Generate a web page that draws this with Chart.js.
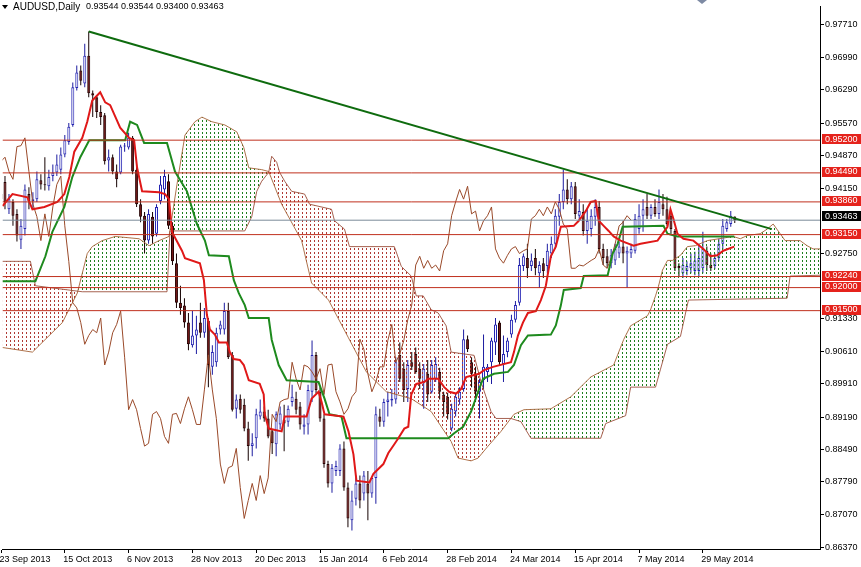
<!DOCTYPE html>
<html lang="en">
<head>
<meta charset="UTF-8">
<title>AUDUSD Daily</title>
<script src="https://cdn.jsdelivr.net/npm/chart.js"></script>
<style>
  html, body { margin: 0; padding: 0; background: #fff; }
  #wrap { width: 861px; height: 567px; }
</style>
</head>
<body>
<div id="wrap"><canvas id="c"></canvas></div>
<script>
// header
const symbol = 'AUDUSD,Daily';

// daily candles, bar 0 = 23 Sep 2013
const opens = [
  .9403,.9429,.9370,.9386,.9360,.9304,.9327,.9403,.9388,.9392,
  .9433,.9424,.9420,.9442,.9450,.9456,.9489,.9516,.9553,.9633,
  .9671,.9643,.9703,.9622,.9613,.9581,.9574,.9476,.9483,.9452,
  .9450,.9506,.9504,.9525,.9456,.9381,.9356,.9302,.9354,.9317,
  .9388,.9413,.9431,.9334,.9253,.9167,.9161,.9124,.9075,.9096,
  .9124,.9102,.9128,.9028,.9038,.9109,.9109,.9149,.9054,.8937,
  .8959,.8946,.8894,.8856,.8873,.8920,.8931,.8916,.8888,.8860,
  .8903,.8914,.8909,.8952,.8959,.8942,.8898,.8903,.8974,.9054,
  .8974,.8916,.8817,.8775,.8802,.8802,.8851,.8766,.8695,.8742,
  .8775,.8753,.8775,.8753,.8787,.8920,.8909,.8952,.8955,.8957,
  .9054,.9024,.8980,.9038,.9056,.9024,.8995,.9013,.8974,.9002,
  .9017,.8968,.8963,.8894,.8931,.8957,.8980,.9088,.9038,.9013,
  .8974,.8999,.9017,.9038,.9081,.9124,.9034,.9060,.9098,.9130,
  .9167,.9247,.9264,.9247,.9264,.9231,.9253,.9247,.9274,.9295,
  .9354,.9386,.9413,.9392,.9420,.9356,.9364,.9323,.9327,.9354,
  .9375,.9284,.9268,.9253,.9259,.9274,.9289,.9274,.9274,.9280,
  .9327,.9356,.9375,.9356,.9375,.9360,.9381,.9370,.9356,.9323,
  .9247,.9231,.9236,.9242,.9236,.9236,.9242,.9280,.9249,.9247,
  .9264,.9295,.9327,.9338,.93544
];
const highs = [
  .9420,.9442,.9403,.9392,.9370,.9349,.9424,.9418,.9407,.9452,
  .9446,.9483,.9456,.9467,.9489,.9504,.9531,.9557,.9645,.9682,
  .9682,.9729,.9756,.9628,.9617,.9596,.9579,.9500,.9489,.9467,
  .9510,.9514,.9536,.9529,.9467,.9392,.9364,.9370,.9364,.9381,
  .9442,.9456,.9446,.9342,.9274,.9204,.9177,.9145,.9149,.9139,
  .9167,.9156,.9134,.9075,.9113,.9128,.9167,.9167,.9060,.8968,
  .8968,.8959,.8909,.8884,.8937,.8957,.8942,.8935,.8892,.8931,
  .8942,.8946,.8944,.8989,.8974,.8952,.8925,.8989,.9085,.9060,
  .8984,.8925,.8824,.8817,.8824,.8860,.8866,.8777,.8759,.8792,
  .8792,.8802,.8802,.8787,.8942,.8937,.8959,.8974,.8980,.9049,
  .9081,.9038,.9043,.9060,.9070,.9038,.9034,.9043,.9043,.9049,
  .9026,.8974,.8972,.8948,.8970,.8984,.9109,.9096,.9049,.9028,
  .9002,.9098,.9034,.9091,.9134,.9128,.9096,.9091,.9141,.9171,
  .9264,.9274,.9295,.9274,.9284,.9257,.9264,.9295,.9311,.9370,
  .9403,.9456,.9435,.9429,.9429,.9392,.9381,.9370,.9370,.9392,
  .9388,.9295,.9284,.9284,.9295,.9300,.9345,.9289,.9295,.9360,
  .9381,.9392,.9403,.9381,.9392,.9413,.9403,.9397,.9364,.9327,
  .9253,.9264,.9257,.9274,.9278,.9295,.9321,.9289,.9274,.9274,
  .9306,.9349,.9349,.9366,.93544
];
const lows = [
  .9381,.9370,.9360,.9334,.9300,.9284,.9313,.9370,.9370,.9386,
  .9413,.9411,.9411,.9431,.9442,.9446,.9483,.9510,.9549,.9628,
  .9639,.9635,.9613,.9570,.9568,.9553,.9467,.9452,.9446,.9418,
  .9446,.9495,.9500,.9446,.9375,.9342,.9274,.9295,.9295,.9311,
  .9381,.9392,.9327,.9249,.9156,.9141,.9113,.9064,.9070,.9056,
  .9091,.9091,.8984,.9011,.9028,.9098,.9098,.9045,.8931,.8916,
  .8927,.8888,.8824,.8834,.8851,.8914,.8909,.8873,.8839,.8834,
  .8892,.8845,.8898,.8942,.8925,.8892,.8881,.8881,.8952,.8970,
  .8909,.8809,.8766,.8755,.8791,.8791,.8759,.8680,.8673,.8727,
  .8721,.8738,.8695,.8744,.8731,.8898,.8898,.8920,.8942,.8948,
  .8995,.8952,.8952,.9021,.9013,.8980,.8937,.8952,.8970,.8995,
  .8957,.8920,.8914,.8888,.8920,.8946,.8974,.9060,.8984,.8952,
  .8916,.8980,.8995,.8991,.9054,.9032,.8995,.9049,.9091,.9124,
  .9161,.9236,.9221,.9236,.9227,.9199,.9221,.9231,.9264,.9284,
  .9334,.9370,.9381,.9381,.9349,.9345,.9313,.9295,.9311,.9334,
  .9274,.9249,.9242,.9242,.9249,.9264,.9253,.9199,.9264,.9274,
  .9317,.9321,.9349,.9349,.9354,.9349,.9356,.9334,.9317,.9236,
  .9225,.9221,.9227,.9231,.9227,.9225,.9231,.9236,.9236,.9240,
  .9257,.9284,.9321,.9332,.93400
];
const closes = [
  .9392,.9386,.9392,.9356,.9313,.9334,.9413,.9388,.9392,.9435,
  .9424,.9422,.9440,.9450,.9467,.9489,.9520,.9549,.9635,.9667,
  .9649,.9703,.9622,.9617,.9581,.9570,.9474,.9483,.9452,.9435,
  .9506,.9508,.9525,.9452,.9381,.9354,.9302,.9360,.9311,.9375,
  .9424,.9442,.9334,.9257,.9167,.9156,.9124,.9077,.9096,.9109,
  .9102,.9134,.9032,.9060,.9102,.9120,.9149,.9049,.8935,.8957,
  .8935,.8894,.8856,.8862,.8925,.8931,.8916,.8877,.8862,.8925,
  .8927,.8905,.8937,.8963,.8935,.8903,.8903,.8978,.9054,.8978,
  .8916,.8817,.8775,.8809,.8813,.8851,.8766,.8699,.8738,.8775,
  .8738,.8792,.8753,.8787,.8925,.8909,.8952,.8957,.8959,.9038,
  .9002,.8978,.9032,.9028,.9017,.9002,.9024,.8968,.9032,.9034,
  .8974,.8952,.8925,.8937,.8963,.8974,.9088,.9066,.9013,.8974,
  .8995,.9028,.9028,.9085,.9120,.9038,.9056,.9085,.9130,.9162,
  .9249,.9268,.9242,.9259,.9242,.9249,.9236,.9280,.9295,.9356,
  .9386,.9413,.9392,.9420,.9360,.9366,.9323,.9345,.9356,.9375,
  .9284,.9264,.9253,.9270,.9284,.9289,.9274,.9280,.9284,.9349,
  .9356,.9370,.9356,.9375,.9360,.9386,.9370,.9338,.9327,.9242,
  .9242,.9249,.9247,.9253,.9259,.9264,.9284,.9249,.9242,.9264,
  .9295,.9334,.9342,.9356,.93463
];

// time axis: a label every 16 bars
const dateTicks = [0, 16, 32, 48, 64, 80, 96, 112, 128, 144, 160, 176];
const dateLabels = ['23 Sep 2013', '15 Oct 2013', '6 Nov 2013', '28 Nov 2013', '20 Dec 2013',
  '15 Jan 2014', '6 Feb 2014', '28 Feb 2014', '24 Mar 2014', '15 Apr 2014', '7 May 2014', '29 May 2014'];

// price axis labels
const priceTicks = [0.97710, 0.96990, 0.96290, 0.95570, 0.94870, 0.94150, 0.92750,
  0.91330, 0.90610, 0.89910, 0.89190, 0.88490, 0.87790, 0.87070, 0.86370];

// ichimoku lines as [bar, price] vertices
const tenkan = [
  [0.38,.9377],[2.88,.9403],[6.63,.9396],[7.88,.9370],[10.88,.9375],[14.13,.9386],[15.88,.9403],
  [17.13,.9440],[18.38,.9495],[20.38,.9525],[21.63,.9560],[22.88,.9606],[24.88,.9624],[26.13,.9602],
  [27.38,.9596],[29.88,.9547],[32.13,.9525],[33.38,.9520],[34.13,.9460],[35.38,.9409],[39.63,.9407],
  [41.13,.9403],[42.13,.9392],[42.88,.9321],[45.38,.9280],[46.13,.9264],[49.88,.9253],[50.88,.9216],
  [51.63,.9141],[52.38,.9109],[53.63,.9098],[54.63,.9081],[56.63,.9081],[57.38,.9060],[58.38,.9045],
  [59.88,.9043],[60.88,.9032],[62.13,.8999],[64.88,.8991],[65.88,.8968],[66.13,.8925],[67.13,.8894],
  [70.38,.8888],[71.13,.8920],[76.63,.8920],[77.88,.8959],[79.63,.8974],[80.38,.8952],[81.13,.8925],
  [85.88,.8920],[87.13,.8888],[88.38,.8838],[89.13,.8781],[92.38,.8777],[93.38,.8796],[95.88,.8817],
  [97.13,.8841],[98.63,.8860],[99.63,.8873],[101.13,.8894],[102.13,.8898],[102.88,.8968],[104.13,.8991],
  [106.13,.8995],[107.13,.9002],[109.63,.9002],[111.13,.8984],[112.38,.8974],[114.13,.8970],[115.38,.8980],
  [116.63,.9006],[119.88,.9013],[121.13,.9021],[123.38,.9028],[127.88,.9038],[128.63,.9060],[129.63,.9096],
  [130.88,.9124],[132.13,.9145],[134.13,.9149],[135.38,.9173],[136.63,.9204],[137.88,.9268],[139.13,.9289],
  [140.38,.9332],[143.63,.9334],[144.88,.9345],[146.63,.9366],[147.88,.9386],[149.13,.9388],[149.88,.9345],
  [151.13,.9334],[152.38,.9323],[153.63,.9311],[155.38,.9302],[158.63,.9291],[160.38,.9295],[164.63,.9302],
  [165.88,.9317],[167.13,.9332],[167.88,.9370],[168.63,.9349],[169.63,.9317],[171.13,.9306],[173.63,.9302],
  [176.13,.9284],[177.88,.9268],[179.63,.9270],[181.13,.9280],[183.88,.9289]
];
const kijun = [
  [0.38,.9214],[8.63,.9214],[11.13,.9268],[12.88,.9321],[15.88,.9375],[17.88,.9440],[19.88,.9483],
  [22.13,.9520],[31.13,.9520],[32.38,.9560],[34.13,.9553],[35.88,.9514],[41.63,.9514],[43.63,.9452],
  [46.63,.9409],[49.13,.9338],[51.13,.9302],[52.13,.9270],[57.13,.9268],[58.38,.9216],[59.63,.9188],
  [61.13,.9162],[62.13,.9134],[67.13,.9134],[67.88,.9087],[69.63,.9032],[71.63,.8999],[79.63,.8995],
  [81.13,.8959],[82.38,.8925],[85.38,.8920],[86.63,.8873],[112.13,.8873],[113.63,.8884],[115.88,.8898],
  [117.88,.8931],[119.63,.8974],[120.88,.9002],[123.63,.9013],[127.13,.9017],[128.63,.9032],[130.38,.9075],
  [132.13,.9096],[137.88,.9098],[139.13,.9118],[140.38,.9161],[141.13,.9195],[145.38,.9199],[146.13,.9225],
  [152.13,.9227],[153.38,.9274],[154.63,.9295],[155.88,.9332],[166.13,.9334],[167.13,.9317],[169.63,.9311],
  [183.88,.9311]
];
const spanA = [
  [0.38,.9070],[7.88,.9060],[15.38,.9124],[19.13,.9188],[21.63,.9274],[22.88,.9289],[25.38,.9302],
  [28.63,.9311],[34.63,.9306],[37.13,.9291],[39.63,.9302],[42.13,.9311],[44.13,.9424],[46.13,.9531],
  [48.63,.9560],[50.38,.9570],[52.88,.9560],[56.13,.9553],[59.13,.9538],[60.88,.9504],[62.13,.9460],
  [65.38,.9456],[67.13,.9452],[70.38,.9381],[75.38,.9302],[77.88,.9210],[82.13,.9173],[87.13,.9091],
  [91.63,.9017],[96.63,.8974],[102.88,.8959],[107.88,.8931],[112.88,.8866],[114.63,.8830],[117.88,.8824],
  [119.63,.8830],[122.13,.8856],[125.38,.8888],[128.63,.8925],[131.13,.8935],[137.88,.8937],[142.88,.8963],
  [147.88,.9006],[153.63,.9032],[156.13,.9087],[157.88,.9117],[162.13,.9139],[162.88,.9152],[164.13,.9182],
  [164.88,.9203],[165.88,.9238],[167.13,.9259],[168.38,.9259],[170.38,.9270],[172.13,.9289],[174.13,.9291],
  [177.13,.9302],[183.63,.9311],[185.38,.9306],[187.13,.9313],[190.38,.9317],[192.13,.9327],[193.63,.9338],
  [195.38,.9317],[196.63,.9302],[200.38,.9302],[202.13,.9291],[203.63,.9284],[205.88,.9284]
];
const spanB = [
  [0.38,.9257],[7.38,.9257],[8.63,.9204],[20.38,.9191],[41.63,.9191],[42.38,.9323],[61.13,.9323],
  [62.88,.9354],[64.13,.9409],[65.38,.9431],[67.13,.9450],[67.88,.9485],[69.13,.9472],[69.88,.9450],
  [71.13,.9431],[72.88,.9409],[76.13,.9403],[77.38,.9381],[82.88,.9370],[83.63,.9345],[86.13,.9327],
  [87.38,.9289],[98.63,.9289],[100.38,.9246],[102.88,.9225],[104.13,.9182],[105.88,.9182],[107.88,.9152],
  [109.63,.9145],[111.63,.9117],[112.88,.9060],[118.63,.9053],[120.38,.8995],[122.88,.8931],[124.13,.8916],
  [127.88,.8916],[130.38,.8909],[132.88,.8873],[150.38,.8873],[151.63,.8905],[156.63,.8922],[157.88,.8984],
  [164.13,.8984],[165.38,.9023],[167.13,.9077],[170.38,.9094],[172.38,.9173],[197.13,.9177],[197.88,.9225],
  [205.88,.9227]
];
const chikouShift = 26;

// drawn levels and trendline
const levels = [0.95200, 0.94490, 0.93860, 0.93150, 0.92240, 0.92000, 0.91500];
const trendline = [[22, 0.9756], [193.3, 0.9327]];

const xMin = 0.375, xMax = 205.375;
const yMin = 0.86327, yMax = 0.98103;

const last = closes.length - 1;
const lastPrice = closes[last];
const isUp = i => closes[i] >= opens[i];

Chart.defaults.font.family = '"Liberation Sans", Arial, sans-serif';
Chart.defaults.font.size = 9;
Chart.defaults.color = '#000';

const canvas = document.getElementById('c');
const ctx0 = canvas.getContext('2d');

// MT4 style dotted hatch, one dotted column per bar
function hatch(color) {
  const t = document.createElement('canvas');
  t.width = 4; t.height = 4;
  const g = t.getContext('2d');
  g.fillStyle = color;
  g.fillRect(2, 0, 1, 2);
  return ctx0.createPattern(t, 'repeat');
}
const greenHatch = hatch('#1f7f1f');
const redHatch = hatch('#b03a34');

const pts = arr => arr.map(([x, y]) => ({ x, y }));
const lineDs = (data, color, width, order, extra) => Object.assign({
  type: 'line', data, borderColor: color, borderWidth: width,
  pointRadius: 0, tension: 0, fill: false, order
}, extra || {});

const datasets = [
  {
    type: 'bar', order: 30, grouped: false, barThickness: 1, inflateAmount: 0,
    data: highs.map((h, i) => ({ x: i, y: [lows[i], h] })),
    backgroundColor: c => isUp(c.dataIndex) ? '#1c1ca0' : '#140000'
  },
  {
    type: 'bar', order: 29, grouped: false, barThickness: 3, inflateAmount: 0,
    minBarLength: 1, borderWidth: 1, borderSkipped: false,
    data: opens.map((o, i) => ({ x: i, y: [o, closes[i]] })),
    backgroundColor: c => isUp(c.dataIndex) ? '#ffffff' : '#761818',
    borderColor: c => isUp(c.dataIndex) ? '#2323b4' : '#240000'
  },
  lineDs(pts(spanA), 'rgba(160,90,45,0.85)', 1, 28, { fill: { target: '+1', above: greenHatch, below: redHatch } }),
  lineDs(pts(spanB), 'rgba(150,70,50,0.85)', 1, 27),
  lineDs(closes.map((c, i) => ({ x: i - chikouShift, y: c })), '#9a4a2a', 1, 26),
  lineDs(pts(kijun), '#1e8a1e', 2, 25),
  lineDs(pts(tenkan), '#e01818', 2, 24),
];
levels.forEach(v => datasets.push(lineDs([{ x: xMin, y: v }, { x: xMax, y: v }], '#c0301e', 1, 20)));
datasets.push(lineDs([{ x: xMin, y: lastPrice }, { x: xMax, y: lastPrice }], '#7a8a99', 1, 19));
datasets.push(lineDs(pts(trendline), '#0e6b0e', 2, 18));

const overlay = {
  id: 'overlay',
  afterDraw(chart) {
    const { ctx, chartArea, scales: { y } } = chart;
    ctx.save();
    ctx.font = '9px "Liberation Sans", Arial, sans-serif';
    ctx.textBaseline = 'middle';
    const box = (v, bg, dy) => {
      const py = y.getPixelForValue(v) + dy;
      ctx.fillStyle = bg;
      ctx.fillRect(chartArea.right + 2, Math.round(py - 5), chart.width - chartArea.right - 2, 10);
      ctx.fillStyle = '#fff';
      ctx.fillText(v.toFixed(5), chartArea.right + 5, py);
    };
    levels.forEach(v => box(v, '#e5231c', -1));
    box(lastPrice, '#000', -4);

    // header line
    ctx.fillStyle = '#000';
    ctx.beginPath();
    ctx.moveTo(2, 5); ctx.lineTo(8, 5); ctx.lineTo(5, 9); ctx.closePath();
    ctx.fill();
    ctx.font = '10px "Liberation Sans", Arial, sans-serif';
    ctx.fillText(symbol, 13, 7);
    ctx.font = '9px "Liberation Sans", Arial, sans-serif';
    const vals = [opens[last], highs[last], lows[last], closes[last]].map(v => v.toFixed(5)).join(' ');
    ctx.fillText(vals, 86, 7);

    // chart shift marker
    ctx.fillStyle = '#7d8aa3';
    ctx.beginPath();
    ctx.moveTo(697, 0); ctx.lineTo(707, 0); ctx.lineTo(702, 4); ctx.closePath();
    ctx.fill();
    ctx.restore();
  }
};

new Chart(canvas, {
  type: 'bar',
  data: { datasets },
  options: {
    responsive: true,
    maintainAspectRatio: false,
    devicePixelRatio: 1,
    animation: false,
    layout: { padding: 0 },
    plugins: { legend: { display: false }, tooltip: { enabled: false } },
    scales: {
      x: {
        type: 'linear', min: xMin, max: xMax, offset: false,
        afterBuildTicks: s => { s.ticks = dateTicks.map(v => ({ value: v })); },
        afterFit: s => { s.height = 18; },
        ticks: {
          autoSkip: false, maxRotation: 0, align: 'start', labelOffset: -1.5, padding: 1,
          callback: v => dateLabels[dateTicks.indexOf(v)]
        },
        grid: { drawOnChartArea: false, drawTicks: true, tickLength: 4, color: '#000', offset: false },
        border: { display: true, color: '#000', width: 1 }
      },
      y: {
        type: 'linear', position: 'right', min: yMin, max: yMax,
        afterBuildTicks: s => { s.ticks = priceTicks.map(v => ({ value: v })); },
        afterFit: s => { s.width = 41; },
        ticks: { padding: 1, callback: v => v.toFixed(5) },
        grid: { drawOnChartArea: false, drawTicks: true, tickLength: 4, color: '#000' },
        border: { display: true, color: '#000', width: 1 }
      }
    }
  },
  plugins: [overlay]
});
</script>
</body>
</html>
